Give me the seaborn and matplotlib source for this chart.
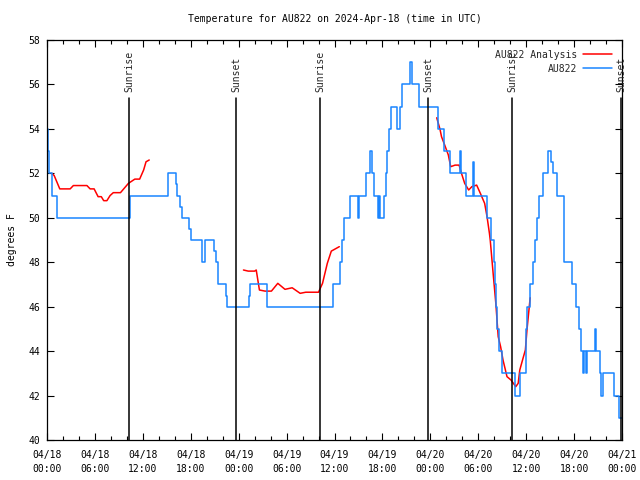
import matplotlib
matplotlib.use("Agg")
import matplotlib.dates as mdates
import matplotlib.pyplot as plt
from matplotlib.lines import Line2D
import pandas as pd
import seaborn as sns

sns.set_theme(style="ticks")
plt.rcParams["font.family"] = ["DejaVu Sans Mono", "DejaVu Sans"]

start = pd.Timestamp("2024-04-18 00:00")

# station observations (hours since 04/18 00:00, deg F), held until next point
obs_hours = [0.0, 0.15, 0.3, 0.6, 1.25, 10.4, 15.1, 16.1, 16.3, 16.6, 16.85, 17.8, 18.0,
             19.35, 19.75, 20.95, 21.2, 21.45, 22.4, 22.6, 25.35, 25.45, 27.5, 35.8,
             36.65, 36.95, 37.15, 38.0, 38.95, 39.1, 39.9, 40.4, 40.7, 41.0, 41.4, 41.6,
             41.7, 42.2, 42.4, 42.6, 42.8, 43.05, 43.8, 44.2, 44.45, 45.4, 45.75, 46.6,
             48.95, 49.7, 50.5, 51.75, 51.9, 52.5, 53.35, 53.5, 55.1, 55.65, 55.95, 56.1,
             56.25, 56.4, 56.55, 57.0, 58.6, 59.2, 60.0, 60.15, 60.45, 60.85, 61.1, 61.4,
             61.65, 62.05, 62.7, 63.1, 63.3, 63.8, 64.75, 65.8, 66.2, 66.6, 66.9, 67.1,
             67.3, 67.45, 67.6, 68.6, 68.8, 69.2, 69.4, 69.6, 70.95, 71.65, 72.0]
obs_temps = [54, 53, 52, 51, 50, 51, 52, 51.5, 51, 50.5, 50, 49.5, 49,
             48, 49, 48.5, 48, 47, 46.5, 46, 46.5, 47, 46, 47,
             48, 49, 50, 51, 50, 51, 52, 53, 52, 51, 50, 51,
             50, 51, 52, 53, 54, 55, 54, 55, 56, 57, 56, 55,
             54, 53, 52, 53, 52, 51, 52.5, 51, 50, 49, 48, 47,
             46, 45, 44, 43, 42, 43, 45, 46, 47, 48, 49, 50,
             51, 52, 53, 52.5, 52, 51, 48, 47, 46, 45, 44, 43,
             44, 43, 44, 45, 44, 43, 42, 43, 42, 41, 41]

# analysis, three separate runs
ana_seg = [1] * 21 + [2] * 17 + [3] * 33
ana_hours = [0.6, 0.9, 1.6, 2.9, 3.3, 5.0, 5.4, 5.9, 6.4, 6.8, 7.1, 7.5, 7.9, 8.3, 9.2,
             10.2, 11.0, 11.6, 12.1, 12.4, 12.8,
             24.6, 25.2, 26.0, 26.2, 26.6, 27.3, 28.1, 28.9, 29.8, 30.7, 31.7, 32.4,
             34.0, 34.5, 35.1, 35.6, 36.6,
             48.8, 49.2, 49.4, 49.8, 50.25, 50.55, 51.1, 51.6, 51.9, 52.3, 52.8, 53.2,
             53.8, 54.3, 54.8, 55.1, 55.4, 55.5, 55.9, 56.2, 56.5, 56.8, 57.1, 57.6,
             58.1, 58.4, 58.7, 59.0, 59.2, 59.6, 59.9, 60.1, 60.5]
ana_temps = [52.0, 51.9, 51.3, 51.3, 51.45, 51.45, 51.3, 51.3, 50.95, 50.95, 50.77, 50.77,
             51.0, 51.13, 51.13, 51.55, 51.74, 51.74, 52.15, 52.52, 52.6,
             47.65, 47.6, 47.6, 47.65, 46.75, 46.7, 46.7, 47.05, 46.78, 46.85, 46.6, 46.65,
             46.65, 47.05, 47.95, 48.5, 48.7,
             54.5, 54.0, 53.65, 53.27, 52.83, 52.3, 52.37, 52.37, 52.0, 51.55, 51.25, 51.4,
             51.47, 51.07, 50.65, 50.05, 49.3, 49.0, 47.35, 46.15, 44.65, 44.2, 43.6, 42.85,
             42.7, 42.55, 42.4, 42.55, 43.15, 43.67, 44.05, 44.95, 46.4]

sun_hours = [10.27, 23.7, 34.2, 47.7, 58.23, 71.9]
sun_labels = ["Sunrise", "Sunset", "Sunrise", "Sunset", "Sunrise", "Sunset"]

obs = pd.DataFrame({"time": start + pd.to_timedelta(obs_hours, unit="h"), "temp": obs_temps})
ana = pd.DataFrame({"time": start + pd.to_timedelta(ana_hours, unit="h"),
                    "temp": ana_temps, "seg": ana_seg})

red = "#ff0000"
blue = "#1a85ff"

fig = plt.figure(figsize=(6.4, 4.8), dpi=100)
ax = fig.add_axes([47 / 640, 40 / 480, 575 / 640, 400 / 480])

sns.lineplot(data=ana, x="time", y="temp", units="seg", estimator=None, color=red,
             linewidth=1.1, ax=ax)
sns.lineplot(data=obs, x="time", y="temp", color=blue, linewidth=1.1,
             drawstyle="steps-post", ax=ax)

for h, lab in zip(sun_hours, sun_labels):
    t = start + pd.Timedelta(hours=h)
    ax.axvline(t, ymin=0, ymax=(440 - 98) / 400, color="black", linewidth=1.1)
    ax.text(t, 55.65, lab, rotation=90, ha="center", va="bottom", fontsize=7)

ax.set_xlim(start, start + pd.Timedelta(hours=72))
ax.set_ylim(40, 58)
ax.set_yticks(range(40, 59, 2))
ax.xaxis.set_major_locator(mdates.HourLocator(byhour=[0, 6, 12, 18]))
ax.xaxis.set_minor_locator(mdates.HourLocator(byhour=range(0, 24, 2)))
ax.xaxis.set_major_formatter(mdates.DateFormatter("%m/%d\n%H:%M"))
ax.tick_params(which="both", direction="in", top=True, right=True, labelsize=7,
               color="black", labelcolor="black")
ax.tick_params(which="major", length=5, width=0.8, pad=5)
ax.tick_params(which="minor", length=3, width=0.8)
ax.tick_params(axis="x", which="major", pad=7)
for s in ax.spines.values():
    s.set_color("black")
    s.set_linewidth(0.9)

ax.set_xlabel("")
ax.set_ylabel("degrees F", fontsize=7, color="black", labelpad=8)
ax.set_title("Temperature for AU822 on 2024-Apr-18 (time in UTC)", fontsize=7,
             color="black", pad=13)

handles = [Line2D([], [], color=red, linewidth=1.1), Line2D([], [], color=blue, linewidth=1.1)]
ax.legend(handles, ["AU822 Analysis", "AU822"], loc="upper right", frameon=False,
          markerfirst=False, fontsize=7, handlelength=3.0, borderaxespad=0.6,
          labelspacing=0.4, handletextpad=0.6)

fig.canvas.draw()
for lbl in ax.get_xticklabels():
    lbl.set_linespacing(1.5)

fig.savefig("out.png", dpi=100)
